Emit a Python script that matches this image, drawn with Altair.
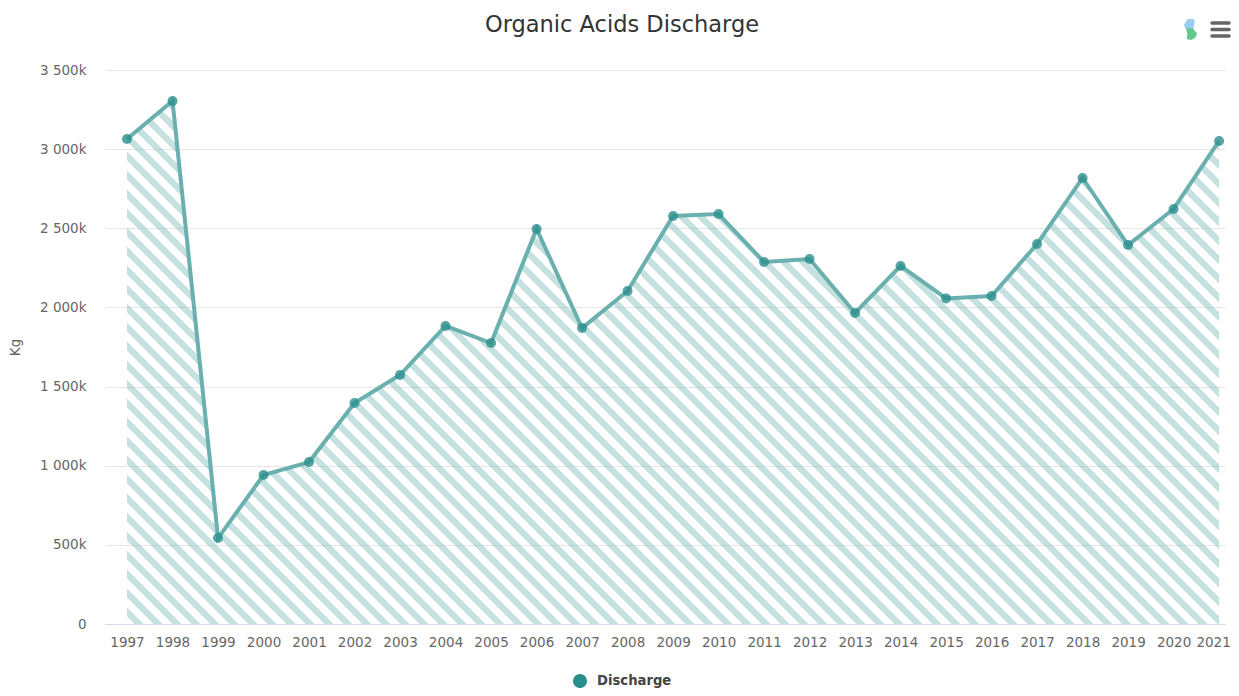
import altair as alt
import pandas as pd

years = list(range(1997, 2022))
discharge = [3064, 3304, 543, 941, 1023, 1396, 1573, 1883, 1775, 2496, 1870, 2104, 2578,
             2590, 2287, 2306, 1965, 2262, 2057, 2072, 2401, 2818, 2394, 2622, 3052]
y_ticks = [0, 500, 1000, 1500, 2000, 2500, 3000, 3500]
series_name = "Discharge"

PW, PH = 1120, 554
LEFT, TOP = 97, 62
XMIN, XMAX, YMAX = 1996.516, 2021.13, 3500

df = pd.DataFrame({"year": years, "value": discharge, "series": series_name})

# diagonal hatch as a hard-stop linear gradient in bounding-box units
W = (max(years) - min(years)) / (XMAX - XMIN) * PW
H = max(discharge) / YMAX * PH
a = (W + H) * W / (W * W + H * H)
period, phase, band = 19.0, 7.0, 9.5
C_ON, C_OFF = "rgba(128,191,187,0.46)", "rgba(128,191,187,0)"
stops = [alt.GradientStop(offset=0, color=C_OFF)]
pos = phase
while pos + band < W + H:
    s, e = pos / (W + H), (pos + band) / (W + H)
    stops += [
        alt.GradientStop(offset=s, color=C_OFF),
        alt.GradientStop(offset=s, color=C_ON),
        alt.GradientStop(offset=e, color=C_ON),
        alt.GradientStop(offset=e, color=C_OFF),
    ]
    pos += period
stops.append(alt.GradientStop(offset=1, color=C_OFF))
hatch = alt.LinearGradient(gradient="linear", x1=0, y1=1, x2=a, y2=1 - a * H / W, stops=stops)

x = alt.X(
    "year:Q",
    scale=alt.Scale(domain=[XMIN, XMAX], nice=False, zero=False),
    axis=alt.Axis(
        title=None, values=years, format="d", grid=False, ticks=False, domain=True,
        domainColor="#d5dcee", domainWidth=1, labelColor="#666666", labelFont="DejaVu Sans",
        labelFontSize=13.5, labelPadding=11, labelFlush=False, labelOverlap=False, labelAngle=0,
        labelOffset={"condition": {"test": "datum.value == 2021", "value": -6}, "value": 0},
    ),
)
y = alt.Y(
    "value:Q",
    scale=alt.Scale(domain=[0, YMAX], nice=False),
    axis=alt.Axis(
        title="Kg", values=y_ticks, grid=True, gridColor="#e6e6e6", ticks=False, domain=False,
        labelColor="#666666", labelFont="DejaVu Sans", labelFontSize=13.5, labelPadding=19,
        labelExpr="datum.value >= 1000 ? format(floor(datum.value/1000),'d') + ' ' + format(datum.value % 1000,'03d') + 'k' : datum.value == 0 ? '0' : datum.value + 'k'",
        titleColor="#666666", titleFont="DejaVu Sans", titleFontSize=13.5, titleFontWeight="normal",
        titlePadding=17,
    ),
)

area = alt.Chart(df).mark_area(fill=hatch, line=False, opacity=1).encode(x=x, y=y)
line = alt.Chart(df).mark_line(color="#6ab0ae", strokeWidth=4).encode(x=x, y=y)
points = alt.Chart(df).mark_point(filled=True, size=100, opacity=0.8).encode(
    x=x, y=y,
    color=alt.Color(
        "series:N",
        scale=alt.Scale(range=["#2a8f8c"]),
        legend=alt.Legend(
            title=None, orient="none", legendX=467, legendY=603, symbolType="circle", symbolSize=200,
            symbolOpacity=1, labelFont="DejaVu Sans", labelFontSize=13.2, labelFontWeight="bold",
            labelColor="#444444", labelOffset=9, padding=0,
        ),
    ),
)

bars = pd.DataFrame({"y": [23.0 - TOP - 8, 29.5 - TOP - 8, 36 - TOP - 8]})
menu = alt.Chart(bars).mark_rule(color="#666666", strokeWidth=3.5, strokeCap="round").encode(
    x=alt.value(1212 - LEFT - 8), x2=alt.value(1229 - LEFT - 8), y=alt.Y("y:Q", scale=None)
)

icon_blue = alt.Chart(pd.DataFrame({"k": [0]})).mark_point(
    filled=True, opacity=1, color="#9ccdf0", size=150,
    shape="M-0.4,-1 L0.6,-1 L0.8,-0.5 L0.6,0.2 L0.5,0.9 L-0.6,0.8 L-1,0 Z",
).encode(x=alt.value(1190 - LEFT - 8), y=alt.value(25 - TOP - 8))
icon_green = alt.Chart(pd.DataFrame({"k": [0]})).mark_point(
    filled=True, opacity=1, color="#62c98a", size=150,
    shape="M-0.8,-1 L0.3,-0.9 L1,-0.1 L0.7,0.6 L0,1 L-0.7,0.8 L-0.6,0 Z",
).encode(x=alt.value(1191 - LEFT - 8), y=alt.value(34 - TOP - 8))

chart = (
    alt.layer(area, line, points, menu, icon_blue, icon_green)
    .resolve_scale(color="independent")
    .properties(
        width=PW,
        height=PH,
        padding={"left": LEFT, "top": TOP, "right": 6, "bottom": 64},
        autosize=alt.AutoSizeParams(type="none"),
        title=alt.TitleParams(
            "Organic Acids Discharge", anchor="middle", frame="group", dx=-43, offset=-18,
            font="DejaVu Sans", fontSize=22.5, fontWeight="normal", color="#333333",
        ),
    )
    .configure_view(stroke=None)
)

chart.save("out.html", embed_options={"renderer": "svg", "actions": False})
